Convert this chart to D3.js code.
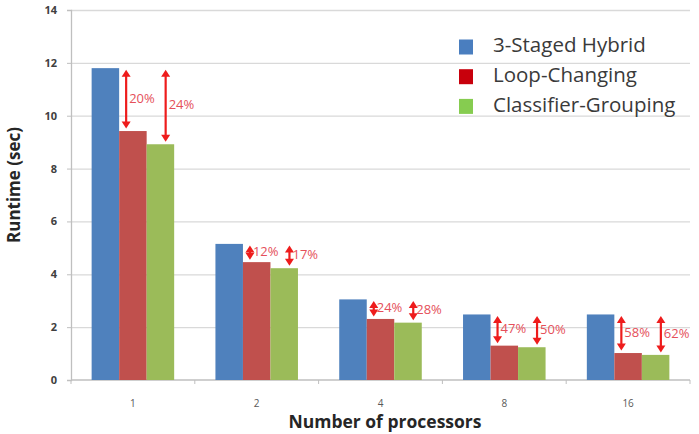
<!DOCTYPE html>
<html>
<head>
<meta charset="utf-8">
<script src="https://cdn.jsdelivr.net/npm/d3@7"></script>
<style>
  body { margin: 0; background: #fff; }
  svg { display: block; font-family: "Open Sans", "DejaVu Sans", sans-serif; }
</style>
</head>
<body>
<div id="chart"></div>
<script>
// datos
const categories = ["1", "2", "4", "8", "16"];
const seriesNames = ["3-Staged Hybrid", "Loop-Changing", "Classifier-Grouping"];
const hybrid = [11.8, 5.15, 3.05, 2.48, 2.48];
const loopChanging = [9.42, 4.46, 2.31, 1.30, 1.02];
const classifierGrouping = [8.92, 4.23, 2.17, 1.24, 0.95];
const loopGain = ["20%", "12%", "24%", "47%", "58%"];
const classifierGain = ["24%", "17%", "28%", "50%", "62%"];
const yTicks = [0, 2, 4, 6, 8, 10, 12, 14];

const barColors = ["#4f81bd", "#c0504d", "#9bbb59"];
const legendColors = ["#4a7ebf", "#c8000c", "#86cc50"];

const W = 699, H = 434;
const plotLeft = 71, plotRight = 690, plotTop = 10, plotBottom = 380;

const svg = d3.select("#chart").append("svg")
  .attr("width", W).attr("height", H);

const x0 = d3.scaleBand().domain(categories).range([plotLeft, plotRight]).padding(0);
const C = x0.bandwidth();
const x1 = d3.scaleBand().domain(seriesNames).range([C / 6, C * 5 / 6]).padding(0);
const y = d3.scaleLinear().domain([0, 14]).range([plotBottom, plotTop]);

// grid
svg.append("g")
  .attr("transform", `translate(${plotLeft},0)`)
  .call(d3.axisLeft(y).tickValues(yTicks.filter(d => d > 0)).tickSize(-(plotRight - plotLeft)).tickFormat(""))
  .call(g => g.select(".domain").remove())
  .call(g => g.selectAll("line").attr("stroke", "#d9d9d9").attr("stroke-width", 1.3));

// eje y
const yAxis = svg.append("g")
  .attr("transform", `translate(${plotLeft},0)`)
  .call(d3.axisLeft(y).tickValues(yTicks).tickSize(4).tickPadding(10));
yAxis.select(".domain").attr("stroke", "#bfbfbf").attr("stroke-width", 1.3);
yAxis.selectAll("line").attr("stroke", "#bfbfbf");
yAxis.selectAll("text")
  .attr("font-size", 11).attr("font-weight", "bold").attr("fill", "#404040")
  .attr("font-family", "'Open Sans', sans-serif");

// eje x (ticks en los bordes de categoría)
const boundaries = categories.map(c => x0(c)).concat([plotRight]);
const xg = svg.append("g");
xg.append("line")
  .attr("x1", plotLeft).attr("x2", plotRight).attr("y1", plotBottom).attr("y2", plotBottom)
  .attr("stroke", "#bfbfbf").attr("stroke-width", 1.3);
xg.selectAll(".tk").data(boundaries).join("line")
  .attr("class", "tk")
  .attr("x1", d => d).attr("x2", d => d)
  .attr("y1", plotBottom).attr("y2", plotBottom + 4)
  .attr("stroke", "#bfbfbf");
xg.selectAll(".lbl").data(categories).join("text")
  .attr("class", "lbl")
  .attr("x", d => x0(d) + C / 2)
  .attr("y", plotBottom + 27)
  .attr("text-anchor", "middle")
  .attr("font-size", 10)
  .attr("fill", "#595959")
  .text(d => d);

// barras
const rows = categories.map((c, i) => ({
  cat: c,
  vals: [hybrid[i], loopChanging[i], classifierGrouping[i]]
}));

const groups = svg.append("g").selectAll("g").data(rows).join("g")
  .attr("transform", d => `translate(${x0(d.cat)},0)`);

groups.selectAll("rect")
  .data(d => d.vals.map((v, k) => ({ name: seriesNames[k], v, k })))
  .join("rect")
  .attr("x", d => x1(d.name))
  .attr("y", d => y(d.v))
  .attr("width", x1.bandwidth())
  .attr("height", d => y(0) - y(d.v))
  .attr("fill", d => barColors[d.k]);

// flechas de mejora
const arrowColor = "#ee1c1c";
const labelColor = "#e5505a";

function arrow(xa, ya, yb) {
  const g = svg.append("g");
  const hw = 4.5, hh = 7;
  g.append("line")
    .attr("x1", xa).attr("x2", xa)
    .attr("y1", ya + hh - 1).attr("y2", yb - hh + 1)
    .attr("stroke", arrowColor).attr("stroke-width", 2.2);
  g.append("path")
    .attr("d", `M${xa},${ya}L${xa - hw},${ya + hh}L${xa + hw},${ya + hh}Z`)
    .attr("fill", arrowColor);
  g.append("path")
    .attr("d", `M${xa},${yb}L${xa - hw},${yb - hh}L${xa + hw},${yb - hh}Z`)
    .attr("fill", arrowColor);
}

rows.forEach((r, i) => {
  const base = x0(r.cat);
  const yTop = y(r.vals[0]) + 1.5;
  const targets = [
    { k: 1, label: loopGain[i], dx: 7 },
    { k: 2, label: classifierGain[i], dx: 19 }
  ];
  targets.forEach(t => {
    const xa = base + x1(seriesNames[t.k]) + t.dx;
    const yb = y(r.vals[t.k]) - 2.5;
    arrow(xa, yTop, yb);
    svg.append("text")
      .attr("x", xa + 3)
      .attr("y", (yTop + yb) / 2)
      .attr("dominant-baseline", "middle")
      .attr("font-size", 13)
      .attr("fill", labelColor)
      .text(t.label);
  });
});

// leyenda
const legend = svg.append("g").attr("transform", "translate(459,47)");
seriesNames.forEach((name, k) => {
  const g = legend.append("g").attr("transform", `translate(0,${k * 29.7})`);
  g.append("rect")
    .attr("x", 0).attr("y", -7.5).attr("width", 14).attr("height", 15)
    .attr("fill", legendColors[k]);
  g.append("text")
    .attr("x", 34).attr("y", 0)
    .attr("dominant-baseline", "middle")
    .attr("font-size", 20.5)
    .attr("fill", "#3a3a3a")
    .text(name);
});

// títulos de ejes
svg.append("text")
  .attr("x", 385).attr("y", 428)
  .attr("text-anchor", "middle")
  .attr("font-size", 17.5).attr("font-weight", "bold")
  .attr("fill", "#262626")
  .text("Number of processors");

svg.append("text")
  .attr("transform", "translate(20,185) rotate(-90)")
  .attr("text-anchor", "middle")
  .attr("font-size", 17).attr("font-weight", "bold")
  .attr("fill", "#262626")
  .text("Runtime (sec)");
</script>
</body>
</html>
